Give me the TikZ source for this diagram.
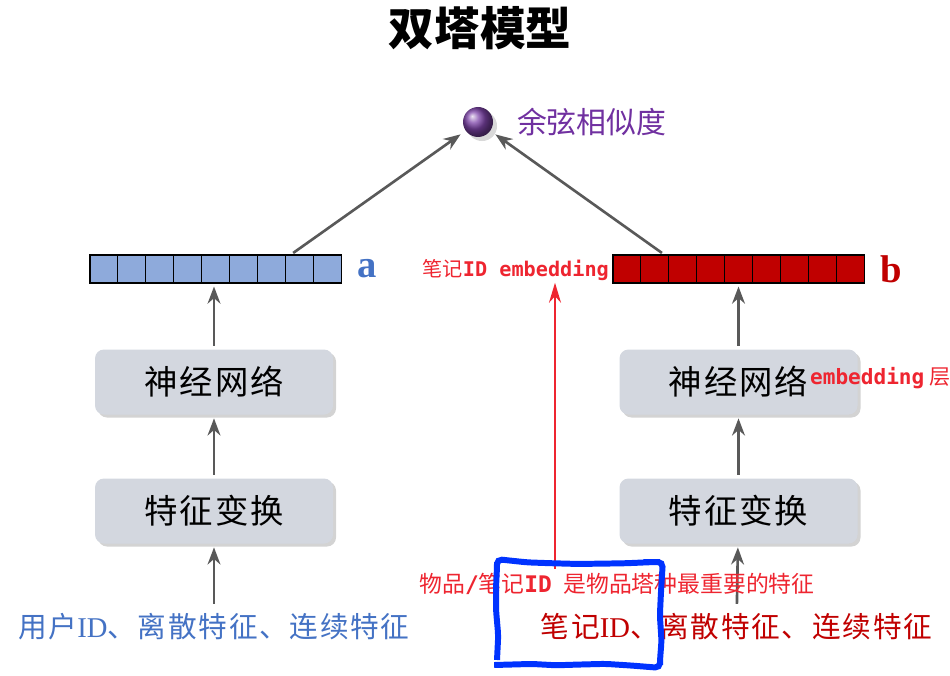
\documentclass[tikz,border=0pt]{standalone}
\usepackage{fontspec}
\setmainfont{Liberation Serif}
\setmonofont{DejaVu Sans Mono}
\newfontfamily\cjk{Noto Sans CJK SC}
\newfontfamily\cjkwide[LetterSpace=6]{Noto Sans CJK SC}
\usetikzlibrary{positioning,shadows,arrows.meta,calc,decorations.pathmorphing}
\definecolor{boxgray}{HTML}{D3D7DF}
\definecolor{vecblue}{HTML}{8EAADB}
\definecolor{vecred}{HTML}{C00000}
\definecolor{arrgray}{HTML}{595959}
\definecolor{simpurple}{HTML}{7030A0}
\definecolor{txtblue}{HTML}{4472C4}
\definecolor{notered}{HTML}{EE2530}
\definecolor{hlblue}{HTML}{0033FF}
\begin{document}
\begin{tikzpicture}[>=Stealth,
      tower/.style={draw=none, fill=boxgray, rounded corners=0.18cm, minimum width=4.76cm, minimum height=1.3cm,
        drop shadow={shadow xshift=0.06cm, shadow yshift=-0.06cm, opacity=0.35}, font=\cjkwide\fontsize{19}{22}\selectfont},
      cell/.style={draw=black, line width=0.6pt, minimum width=0.558cm, minimum height=0.56cm, inner sep=0pt, outer sep=0pt},
      flow/.style={->, arrgray, line width=1.5pt, shorten >=2pt, shorten <=2pt},
      note/.style={text=notered, font=\cjk\fontsize{11.5}{13}\selectfont, inner sep=1pt},
      feat/.style={font=\cjkwide\fontsize{16.3}{18}\selectfont}]
    \useasboundingbox (0,0) rectangle (19,13.5);
    \node[font=\cjk\bfseries\fontsize{26}{30}\selectfont] (title) at (9.6,12.94) {双塔模型};
    % cosine similarity
    \node[circle, minimum size=0.6cm, inner sep=0pt, ball color=simpurple!90, drop shadow={opacity=0.3}] (ball) at (9.56,11.06) {};
    \node[right=0.35cm of ball, text=simpurple, font=\cjk\fontsize{17}{20}\selectfont] (sim) {余弦相似度};
    % embedding vectors
    \foreach \i in {1,...,9} {
      \node[cell, fill=vecblue] (va\i) at ({1.8+0.279+0.558*(\i-1)},8.12) {};
      \node[cell, fill=vecred] (vb\i) at ({12.26+0.279+0.558*(\i-1)},8.12) {};
    }
    \node[right=0.2cm of va9, text=txtblue, font=\bfseries\fontsize{22}{24}\selectfont] (a) {a};
    \node[right=0.2cm of vb9, text=vecred, font=\bfseries\fontsize{22}{24}\selectfont] (b) {b};
    % towers
    \node[tower] (nnL) at (4.28,5.86) {神经网络};
    \node[tower] (ftL) at (4.28,3.28) {特征变换};
    \node[tower] (nnR) at (14.77,5.86) {神经网络};
    \node[tower] (ftR) at (14.77,3.28) {特征变换};
    \node[feat, text=txtblue] (inL) at (4.28,0.96) {用户{\rmfamily ID}、离散特征、连续特征};
    \node[feat, text=vecred] (inR) at (14.73,0.96) {笔记{\rmfamily ID}、离散特征、连续特征};
    \draw[flow] (inL) -- (ftL);
    \draw[flow] (ftL) -- (nnL);
    \draw[flow] (nnL) -- (va5.south -| nnL);
    \draw[flow] (inR) -- (ftR);
    \draw[flow] (ftR) -- (nnR);
    \draw[flow] (nnR) -- (vb5.south -| nnR);
    \draw[flow, shorten >=0.12cm] ($(va8.north west)+(0.1,0)$) -- (ball);
    \draw[flow, shorten >=0.12cm] ($(vb2.north east)+(-0.08,0)$) -- (ball);
    % annotations
    \node[note, anchor=east] (idemb) at (12.22,8.1) {笔记\texttt{\bfseries ID embedding}};
    \node[note, anchor=west, font=\cjk\fontsize{12}{14}\selectfont] (emblayer) at (16.16,5.94) {\texttt{\bfseries embedding} 层};
    \node[note, font=\cjk\fontsize{13}{15}\selectfont] (key) at (12.34,1.82) {物品\texttt{\bfseries /}笔记\texttt{\bfseries ID}\hspace{0.5em}是物品塔种最重要的特征};
    \coordinate (redtail) at (11.1,2.1);
    \draw[-{Stealth[length=0.4cm, width=0.24cm]}, notered, line width=1.2pt] ($(redtail |- key.north)+(0,0.05)$) -- (redtail |- idemb.south);
    \draw[hlblue, line width=3.4pt, rounded corners=0.1cm, decorate, decoration={random steps, segment length=0.5cm, amplitude=0.04cm}]
      (9.94,0.2) rectangle (13.2,2.26);
  \end{tikzpicture}
\end{document}
